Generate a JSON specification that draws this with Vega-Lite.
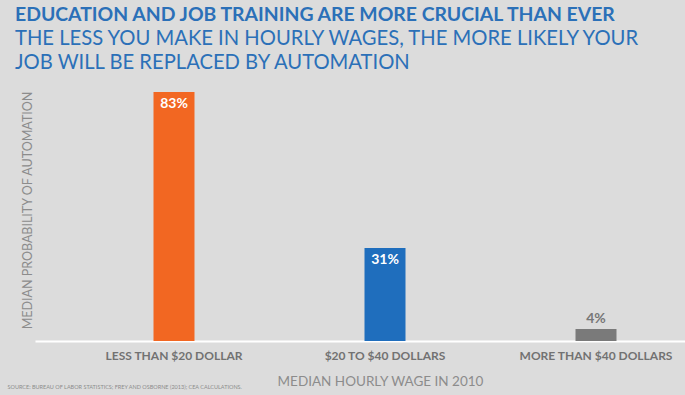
{
  "$schema": "https://vega.github.io/schema/vega-lite/v6.json",
  "autosize": "none",
  "width": 650,
  "height": 300,
  "padding": {"left": 35, "top": 41, "right": 0, "bottom": 54},
  "background": "#dcdcdc",
  "config": {"view": {"stroke": null}},
  "title": {
    "text": "EDUCATION AND JOB TRAINING ARE MORE CRUCIAL THAN EVER",
    "subtitle": ["THE LESS YOU MAKE IN HOURLY WAGES, THE MORE LIKELY YOUR", "JOB WILL BE REPLACED BY AUTOMATION"],
    "anchor": "start",
    "frame": "group",
    "dx": -20,
    "dy": 37,
    "font": "Lato",
    "fontSize": 19.4,
    "fontWeight": "bold",
    "color": "#2b70b8",
    "subtitleFont": "Lato",
    "subtitleFontSize": 20.2,
    "subtitleColor": "#2b70b8",
    "subtitleFontWeight": "normal",
    "subtitleLineHeight": 24,
    "subtitlePadding": 3
  },
  "data": {
    "values": [
      {"wage": "LESS THAN $20 DOLLAR", "value": 0.83},
      {"wage": "$20 TO $40 DOLLARS", "value": 0.31},
      {"wage": "MORE THAN $40 DOLLARS", "value": 0.04}
    ]
  },
  "encoding": {
    "x": {
      "field": "wage",
      "type": "nominal",
      "sort": null,
      "scale": {"paddingInner": 0.8057, "paddingOuter": 0.4431, "align": 0.6337}
    },
    "y": {
      "field": "value",
      "type": "quantitative",
      "scale": {"domain": [0, 1], "nice": false},
      "axis": {
        "title": "MEDIAN PROBABILITY OF AUTOMATION",
        "labels": false,
        "ticks": false,
        "domain": false,
        "grid": false,
        "titleFont": "Lato",
        "titleFontSize": 12.5,
        "titleFontWeight": "normal",
        "titleColor": "#8c8c8c",
        "titleX": -1,
        "titleY": 169
      }
    }
  },
  "layer": [
    {
      "mark": {"type": "bar"},
      "encoding": {
        "color": {
          "field": "wage",
          "type": "nominal",
          "legend": null,
          "scale": {
            "domain": ["LESS THAN $20 DOLLAR", "$20 TO $40 DOLLARS", "MORE THAN $40 DOLLARS"],
            "range": ["#f26722", "#1f6ebd", "#7a7a7a"]
          }
        },
        "x": {
          "field": "wage",
          "type": "nominal",
          "sort": null,
          "axis": {
            "title": "MEDIAN HOURLY WAGE IN 2010",
            "labelAngle": 0,
            "ticks": false,
            "domainColor": "#ffffff",
            "domainWidth": 2,
            "labelFont": "Lato",
            "labelFontSize": 12,
            "labelFontWeight": "bold",
            "labelColor": "#727272",
            "labelBaseline": "alphabetic",
            "labelPadding": 18,
            "titleFont": "Lato",
            "titleFontSize": 13.5,
            "titleFontWeight": "normal",
            "titleColor": "#8c8c8c",
            "titleX": 345,
            "titleY": 44,
            "titleBaseline": "alphabetic"
          }
        }
      }
    },
    {
      "transform": [{"filter": "datum.value >= 0.1"}],
      "mark": {"type": "text", "baseline": "top", "dy": 5, "color": "#ffffff", "font": "Lato", "fontSize": 14, "fontWeight": "bold"},
      "encoding": {
        "x": {
          "field": "wage",
          "type": "nominal",
          "sort": null,
          "axis": {
            "orient": "bottom",
            "title": "SOURCE: BUREAU OF LABOR STATISTICS; FREY AND OSBORNE (2013); CEA CALCULATIONS.",
            "labels": false,
            "ticks": false,
            "domain": false,
            "titleFont": "Lato",
            "titleFontSize": 5.5,
            "titleFontWeight": "normal",
            "titleColor": "#8c8c8c",
            "titleX": -28,
            "titleY": 47,
            "titleAlign": "left",
            "titleBaseline": "alphabetic"
          }
        },
        "text": {"field": "value", "type": "quantitative", "format": ".0%"}
      }
    },
    {
      "transform": [{"filter": "datum.value < 0.1"}],
      "mark": {"type": "text", "baseline": "bottom", "dy": -3, "color": "#777777", "font": "Lato", "fontSize": 14, "fontWeight": "bold"},
      "encoding": {
        "x": {"field": "wage", "type": "nominal", "sort": null, "axis": null},
        "text": {"field": "value", "type": "quantitative", "format": ".0%"}
      }
    }
  ],
  "resolve": {"axis": {"x": "independent"}}
}
